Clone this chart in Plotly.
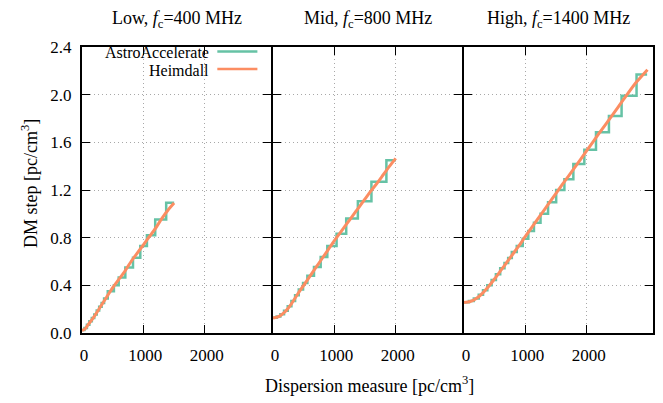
import plotly.graph_objects as go
from plotly.subplots import make_subplots

# ---------------- data ----------------
panel_titles = ["Low, <i>f</i><sub>c</sub>=400 MHz",
                "Mid, <i>f</i><sub>c</sub>=800 MHz",
                "High, <i>f</i><sub>c</sub>=1400 MHz"]

# Heimdall DM step curves
heim_dm_low = [0, 50, 100, 200, 300, 400, 500, 600, 700, 800, 900, 1000, 1100, 1200, 1300, 1400, 1500]
heim_step_low = [0.02, 0.035, 0.07, 0.14, 0.22, 0.30, 0.38, 0.45, 0.52, 0.60, 0.67, 0.74, 0.81, 0.88, 0.96, 1.03, 1.09]

heim_dm_mid = [0, 100, 200, 300, 400, 500, 600, 700, 800, 900, 1000, 1100, 1200, 1300, 1400, 1500, 1600, 1700, 1800, 1900, 2000]
heim_step_mid = [0.125, 0.14, 0.18, 0.245, 0.325, 0.40, 0.475, 0.55, 0.625, 0.70, 0.775, 0.845, 0.915, 0.985, 1.055, 1.125, 1.195, 1.26, 1.33, 1.40, 1.465]

heim_dm_high = [0, 100, 200, 300, 400, 500, 600, 700, 800, 900, 1000, 1200, 1400, 1600, 1800, 2000, 2200, 2400, 2600, 2800, 2990]
heim_step_high = [0.256, 0.264, 0.289, 0.333, 0.39, 0.455, 0.525, 0.595, 0.665, 0.735, 0.81, 0.955, 1.10, 1.245, 1.385, 1.53, 1.675, 1.815, 1.96, 2.10, 2.21]

# AstroAccelerate DM plan (range edges and step in each range)
aa_dm_low = [0, 40, 80, 120, 160, 200, 240, 280, 320, 360, 420, 520, 598, 706, 831, 950, 1058, 1193, 1372, 1502]
aa_step_low = [0.026, 0.042, 0.07, 0.098, 0.126, 0.156, 0.188, 0.22, 0.252, 0.29, 0.35, 0.40, 0.465, 0.55, 0.632,
               0.73, 0.82, 0.952, 1.092]

aa_dm_mid = [0, 60, 120, 180, 240, 300, 360, 420, 490, 560, 668, 777, 885, 1036, 1193, 1383, 1604, 1848, 2005]
aa_step_mid = [0.128, 0.138, 0.158, 0.186, 0.225, 0.268, 0.317, 0.366, 0.419, 0.48, 0.554, 0.637, 0.73, 0.833,
               0.96, 1.105, 1.27, 1.45]

aa_dm_high = [0, 80, 160, 240, 310, 380, 450, 520, 590, 660, 720, 779, 860, 957, 1048, 1140, 1247, 1370, 1502,
              1636, 1782, 1961, 2151, 2362, 2568, 2812, 2984]
aa_step_high = [0.258, 0.268, 0.289, 0.32, 0.358, 0.40, 0.445, 0.493, 0.543, 0.588, 0.63, 0.68, 0.73, 0.79,
                0.855, 0.925, 1.0, 1.097, 1.20, 1.29, 1.418, 1.537, 1.685, 1.82, 1.99, 2.17]

x_tick_vals = [0, 1000, 2000]
y_tick_vals = [0.0, 0.4, 0.8, 1.2, 1.6, 2.0, 2.4]
x_range = [0, 3080]
y_range = [0, 2.4]

series_names = ["AstroAccelerate", "Heimdall"]
AA_COLOR = "#66c2a5"
HD_COLOR = "#fc8d62"
FONT = "Liberation Serif, Times New Roman, serif"

panels = [
    (aa_dm_low, aa_step_low, heim_dm_low, heim_step_low),
    (aa_dm_mid, aa_step_mid, heim_dm_mid, heim_step_mid),
    (aa_dm_high, aa_step_high, heim_dm_high, heim_step_high),
]

# ---------------- geometry ----------------
FIG_W, FIG_H = 655, 395          # page adds an 8px body margin
M_L, M_R, M_T, M_B = 74, 10, 39, 70
LW = 2
plot_w = FIG_W - M_L - M_R       # 571
pw = (plot_w - 2 * LW) / 3       # 189 per panel
domains = []
for i in range(3):
    x0 = i * (pw + LW)
    domains.append([x0 / plot_w, min(1.0, (x0 + pw) / plot_w)])

fig = make_subplots(rows=1, cols=3, horizontal_spacing=0, shared_yaxes=True)

for i, (aa_x, aa_y, hd_x, hd_y) in enumerate(panels):
    col = i + 1
    fig.add_trace(go.Scatter(x=aa_x, y=aa_y + [aa_y[-1]], mode="lines", line_shape="hv",
                             line=dict(color=AA_COLOR, width=2.5), name=series_names[0],
                             showlegend=False), row=1, col=col)
    fig.add_trace(go.Scatter(x=hd_x, y=hd_y, mode="lines",
                             line=dict(color=HD_COLOR, width=3, shape="spline", smoothing=0.6),
                             name=series_names[1], showlegend=False), row=1, col=col)

axis_common = dict(showline=True, linecolor="black", linewidth=LW, mirror="allticks",
                   ticks="inside", ticklen=8, tickwidth=1, tickcolor="black",
                   showgrid=True, gridcolor="#a8a8a8", gridwidth=1, griddash="1px,3px",
                   zeroline=False, tickfont=dict(family=FONT, size=17, color="black"))

for col in range(1, 4):
    fig.update_xaxes(range=x_range, tickvals=x_tick_vals, ticklabelstandoff=6, ticklabelshift=2,
                     domain=domains[col - 1], **axis_common, row=1, col=col)
    fig.update_yaxes(range=y_range, tickvals=y_tick_vals, tickformat=".1f",
                     ticklabelstandoff=5, showticklabels=(col == 1),
                     **axis_common, row=1, col=col)

annotations = []
xrefs = ["x domain", "x2 domain", "x3 domain"]
for i, t in enumerate(panel_titles):
    annotations.append(dict(text=t, xref=xrefs[i], yref="paper", x=0.5, y=1,
                            xanchor="center", yanchor="middle", yshift=28, showarrow=False,
                            font=dict(family=FONT, size=18, color="black")))

annotations.append(dict(text="Dispersion measure [pc/cm<sup>3</sup>]", xref="paper", yref="paper",
                        x=0.5, y=0, xanchor="center", yanchor="middle", yshift=-51, xshift=2,
                        showarrow=False, font=dict(family=FONT, size=18, color="black")))
annotations.append(dict(text="DM step [pc/cm<sup>3</sup>]", xref="paper", yref="paper",
                        x=0, y=0.5, xanchor="center", yanchor="middle", xshift=-53, yshift=6,
                        textangle=-90, showarrow=False, font=dict(family=FONT, size=18, color="black")))

# legend (gnuplot style: text right-aligned, sample on the right)
leg_text_y = [0.980, 0.918]
leg_line_y = [0.984, 0.923]
leg_colors = [AA_COLOR, HD_COLOR]
shapes = []
for name, ty, ly, c in zip(series_names, leg_text_y, leg_line_y, leg_colors):
    annotations.append(dict(text=name, xref="x domain", yref="y domain", x=0.672, y=ty, xshift=2,
                            xanchor="right", yanchor="middle", showarrow=False,
                            font=dict(family=FONT, size=16, color="black")))
    shapes.append(dict(type="line", xref="x domain", yref="y domain", x0=0.716, x1=0.928,
                       y0=ly, y1=ly, line=dict(color=c, width=2.5)))

fig.update_layout(width=FIG_W, height=FIG_H, margin=dict(l=M_L, r=M_R, t=M_T, b=M_B, autoexpand=False),
                  paper_bgcolor="white", plot_bgcolor="white",
                  annotations=annotations, shapes=shapes, showlegend=False,
                  font=dict(family=FONT, size=17, color="black"))

fig.write_html("out.html")
